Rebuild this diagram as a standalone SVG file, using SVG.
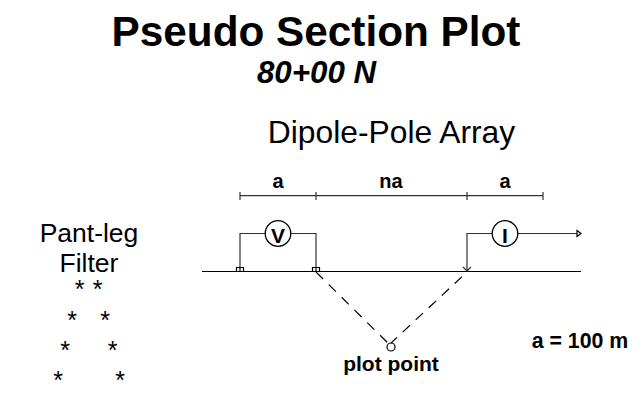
<svg xmlns="http://www.w3.org/2000/svg" width="642" height="395" viewBox="0 0 642 395">
<style>
text{font-family:"Liberation Sans",Arial,sans-serif;fill:#000;text-anchor:middle}
.b{font-weight:bold}
.dim{font-weight:bold;font-size:20px}
.star{font-size:25px}
.w{fill:none;stroke:#333;stroke-width:1.2}
.g{fill:none;stroke:#000;stroke-width:1.2}
.c{fill:#fff;stroke:#000;stroke-width:1.3}
</style>
<rect width="642" height="395" fill="#fff"/>
<g id="title">
<text x="316" y="45.700" class="b" font-size="42.300">Pseudo Section Plot</text>
<text x="316.500" y="83.300" class="b" font-size="31.300" font-style="italic">80+00 N</text>
<text x="391.500" y="143" font-size="31.800">Dipole-Pole Array</text>
</g>
<g id="connectors">
<path class="w" d="M240 195.700H543M240 192V200M316 192V200M467 192V200M543 192V200"/>
<path class="g" d="M202 271.500H581"/>
<path class="w" d="M240 268V233.500H265M291 233.500H316V268"/>
<path class="w" d="M492 233.500H467V270M463 267L467 271L471 267"/>
<path class="w" d="M518 233.500H577"/>
<path class="g" fill="none" d="M577 230.500L581 233.500L577 236.500Z"/>
<path class="g" d="M236.500 271V267.500H243.500V271M240 267.500V271M312.500 271V267.500H319.500V271M316 267.500V271"/>
<path class="g" stroke-dasharray="10 8" d="M316 272L391 346"/>
<path class="g" stroke-dasharray="10 7.800" stroke-dashoffset="11" d="M467 272L391 343"/>
</g>
<g id="node-v"><circle class="c" cx="278" cy="233.500" r="12.800"/><text x="278" y="243" class="b" font-size="21">V</text></g>
<g id="node-i"><circle class="c" cx="505" cy="233.500" r="12.800"/><text x="505" y="242.700" class="b" font-size="21">I</text></g>
<g id="plot-point"><circle class="g" cx="391" cy="347" r="4"/><text x="391" y="370.500" class="b" font-size="21">plot point</text></g>
<g id="labels">
<text x="278" y="188.300" class="dim">a</text>
<text x="391" y="188.300" class="dim">na</text>
<text x="505" y="188.300" class="dim">a</text>
<text x="580" y="348" class="b" font-size="21.300">a = 100 m</text>
<text x="89" y="242" font-size="26.500">Pant-leg</text>
<text x="89" y="272" font-size="26.500">Filter</text>
<text x="79.500" y="298" class="star">*</text><text x="97.500" y="298" class="star">*</text>
<text x="72" y="329" class="star">*</text><text x="105" y="329" class="star">*</text>
<text x="65" y="359" class="star">*</text><text x="112.500" y="359" class="star">*</text>
<text x="58" y="389" class="star">*</text><text x="120" y="389" class="star">*</text>
</g>
</svg>
